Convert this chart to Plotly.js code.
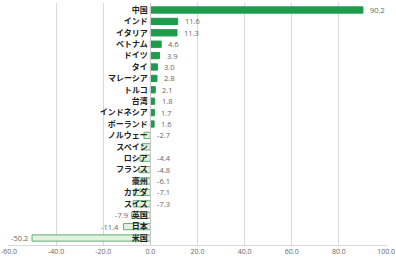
<!DOCTYPE html>
<html><head><meta charset="utf-8">
<script src="https://cdn.plot.ly/plotly-3.0.1.min.js"></script>
<style>html,body{margin:0;padding:0;background:#fff}#c{width:396px;height:268px}</style>
</head><body><div id="c"></div>
<script>
const categories = ["中国","インド","イタリア","ベトナム","ドイツ","タイ","マレーシア","トルコ","台湾","インドネシア","ポーランド","ノルウェー","スペイン","ロシア","フランス","豪州","カナダ","スイス","英国","日本","米国"];
const values = [90.2,11.6,11.3,4.6,3.9,3.0,2.8,2.1,1.8,1.7,1.6,-2.7,-3.6,-4.4,-4.8,-6.1,-7.1,-7.3,-7.9,-11.4,-50.2];
const valueLabels = ["90.2","11.6","11.3","4.6","3.9","3.0","2.8","2.1","1.8","1.7","1.6","-2.7","","-4.4","-4.8","-6.1","-7.1","-7.3","-7.9","-11.4","-50.2"];
const xTicks = [-60,-40,-20,0,20,40,60,80,100];

const posC = '#1f9b4c', negFill = '#e3f2df', negLine = '#5cb36e';
const trace = {
  type:'bar', orientation:'h', y:categories, x:values,
  marker:{color:values.map(v=>v>=0?posC:negFill), line:{color:values.map(v=>v>=0?posC:negLine), width:1}},
  width:0.55, hoverinfo:'none'
};
const ann = [];
values.forEach((v,i)=>{
  if(!valueLabels[i]) return;
  let a = {y:categories[i], yref:'y', xref:'x', text:valueLabels[i], showarrow:false,
           font:{family:'Open Sans, sans-serif', size:7.5, color:'#666'}};
  if(v>=0){ a.x=v; a.xanchor='left'; a.xshift=5; }
  else if(v>-7.5){ a.x=0; a.xanchor='left'; a.xshift=5; }
  else { a.x=v; a.xanchor='right'; a.xshift=-2; }
  ann.push(a);
});
const xr = [-60.4, 100.4];
const layout = {
  width:396, height:268, margin:{l:8,r:9,t:3,b:23},
  paper_bgcolor:'#fff', plot_bgcolor:'#fff', showlegend:false,
  font:{family:'Noto Sans CJK JP, sans-serif'},
  xaxis:{range:xr, tickvals:xTicks, ticktext:xTicks.map(t=>t.toFixed(1)), ticklabeloverflow:'allow',
    showgrid:true, gridcolor:'#d9d9d9', gridwidth:1, zeroline:false,
    showline:true, linecolor:'#d9d9d9', ticks:'', tickfont:{size:7, color:'#666', family:'Open Sans, sans-serif'}},
  yaxis:{autorange:'reversed', type:'category', anchor:'free', position:(0-xr[0])/(xr[1]-xr[0]),
    showline:true, linecolor:'#c8c8c8', showgrid:false, zeroline:false, ticks:'', ticklabelstandoff:1,
    tickfont:{size:8, color:'#222', family:'Noto Sans CJK JP, sans-serif', weight:'bold'}, layer:'above traces'},
  bargap:0.45, annotations:ann
};
Plotly.newPlot('c',[trace],layout,{staticPlot:true,displayModeBar:false});
</script></body></html>
